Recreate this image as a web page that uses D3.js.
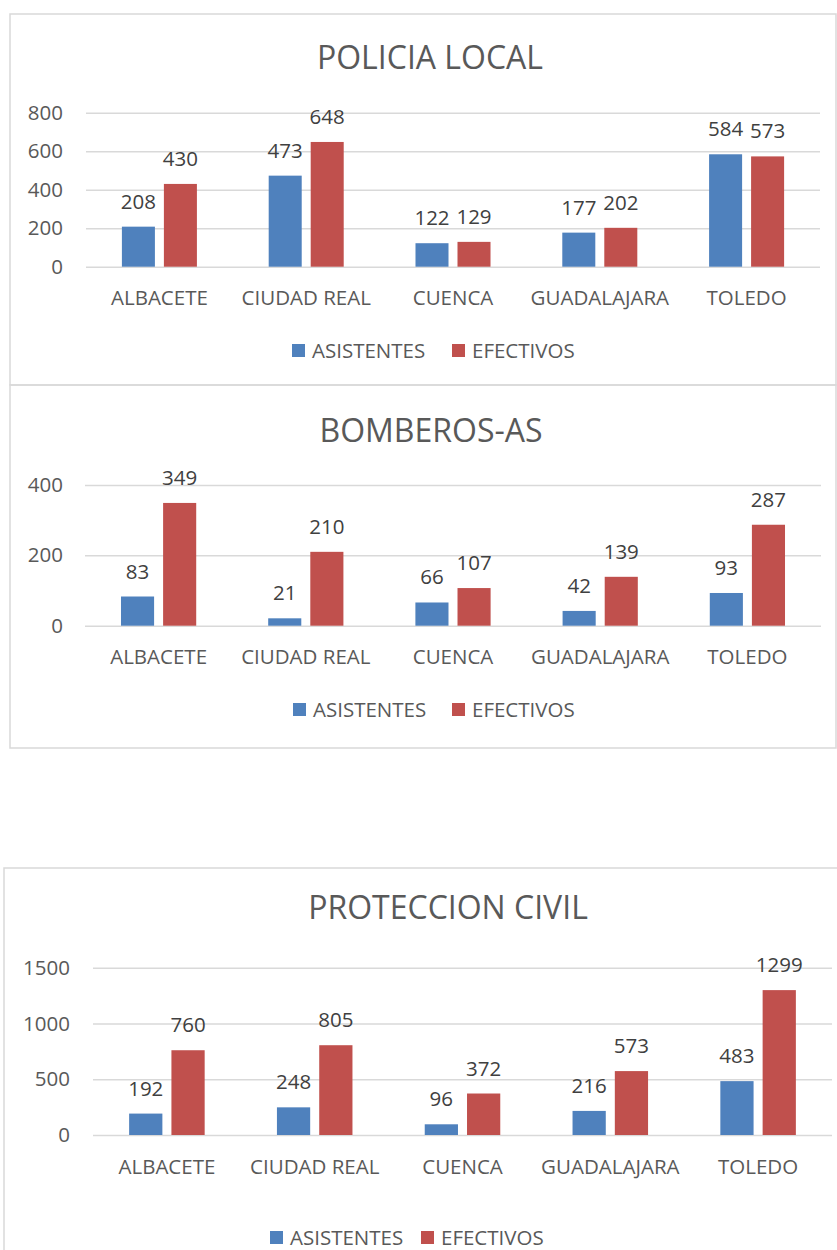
<!DOCTYPE html>
<html>
<head>
<meta charset="utf-8">
<script src="https://cdn.jsdelivr.net/npm/d3@7"></script>
<style>
  body { margin: 0; background: #fff; }
  svg { display: block; font-family: "Open Sans", sans-serif; }
</style>
</head>
<body>
<div id="chart"></div>
<script>
// data
const provincias = ["ALBACETE", "CIUDAD REAL", "CUENCA", "GUADALAJARA", "TOLEDO"];
const series = ["ASISTENTES", "EFECTIVOS"];

const policiaAsistentes = [208, 473, 122, 177, 584];
const policiaEfectivos  = [430, 648, 129, 202, 573];
const policiaTicks = [0, 200, 400, 600, 800];

const bomberosAsistentes = [83, 21, 66, 42, 93];
const bomberosEfectivos  = [349, 210, 107, 139, 287];
const bomberosTicks = [0, 200, 400];

const civilAsistentes = [192, 248, 96, 216, 483];
const civilEfectivos  = [760, 805, 372, 573, 1299];
const civilTicks = [0, 500, 1000, 1500];

const colors = { ASISTENTES: "#4F81BD", EFECTIVOS: "#C0504D" };
const textColor = "#595959";
const gridColor = "#D9D9D9";

const width = 837, height = 1250;

const svg = d3.select("#chart").append("svg")
    .attr("width", width)
    .attr("height", height);

function drawChart(opts) {
    const g = svg.append("g").attr("class", "chart");

    // frame
    g.append("rect")
        .attr("x", opts.frame.x).attr("y", opts.frame.y)
        .attr("width", opts.frame.w).attr("height", opts.frame.h)
        .attr("fill", "none")
        .attr("stroke", gridColor)
        .attr("stroke-width", 1.5);

    // title
    g.append("text")
        .attr("x", opts.titleX).attr("y", opts.titleY)
        .attr("text-anchor", "middle")
        .attr("font-size", "32px")
        .attr("fill", textColor)
        .text(opts.title);

    const x = d3.scaleBand().domain(provincias).range([opts.x0, opts.x1]);
    const step = x.step();
    const groupW = step * 0.511;
    const xs = d3.scaleBand().domain(series)
        .range([(step - groupW) / 2, (step + groupW) / 2])
        .paddingInner(0.214);

    const y = d3.scaleLinear()
        .domain([0, opts.ticks[opts.ticks.length - 1]])
        .range([opts.y0, opts.yTop]);

    // y axis + gridlines
    const yAxis = g.append("g")
        .attr("transform", "translate(" + opts.x0 + ",0)")
        .call(d3.axisLeft(y).tickValues(opts.ticks)
            .tickSize(-(opts.x1 - opts.x0))
            .tickPadding(opts.tickPad)
            .tickFormat(d3.format("d")));
    yAxis.select(".domain").remove();
    yAxis.selectAll(".tick line")
        .attr("stroke", gridColor)
        .attr("stroke-width", 1.5);
    yAxis.selectAll(".tick text")
        .attr("font-size", "20.5px")
        .attr("font-family", "Open Sans")
        .attr("fill", textColor);

    // category axis
    const xAxis = g.append("g")
        .attr("transform", "translate(0," + opts.y0 + ")")
        .call(d3.axisBottom(x).tickSize(0).tickPadding(24));
    xAxis.select(".domain").remove();
    xAxis.selectAll(".tick text")
        .attr("font-size", "20.5px")
        .attr("font-family", "Open Sans")
        .attr("fill", textColor);

    const rows = provincias.map((p, i) => ({
        provincia: p,
        values: series.map(s => ({ key: s, value: opts.data[s][i] }))
    }));

    const groups = g.selectAll(".group").data(rows).enter()
        .append("g")
        .attr("class", "group")
        .attr("transform", d => "translate(" + x(d.provincia) + ",0)");

    groups.selectAll("rect").data(d => d.values).enter()
        .append("rect")
        .attr("x", d => xs(d.key))
        .attr("y", d => y(d.value))
        .attr("width", xs.bandwidth())
        .attr("height", d => opts.y0 - y(d.value))
        .attr("fill", d => colors[d.key]);

    groups.selectAll(".label").data(d => d.values).enter()
        .append("text")
        .attr("class", "label")
        .attr("x", d => xs(d.key) + xs.bandwidth() / 2)
        .attr("y", d => y(d.value) - 18)
        .attr("text-anchor", "middle")
        .attr("font-size", "20.5px")
        .attr("fill", "#404040")
        .text(d => d.value);

    // legend
    const legend = g.selectAll(".legend").data(series).enter()
        .append("g")
        .attr("class", "legend")
        .attr("transform", (d, i) => "translate(" + opts.legendX[i] + "," + opts.legendY + ")");
    legend.append("rect")
        .attr("x", 0).attr("y", -7)
        .attr("width", 13).attr("height", 13)
        .attr("fill", d => colors[d]);
    legend.append("text")
        .attr("x", 20).attr("y", 7)
        .attr("font-size", "20.5px")
        .attr("fill", textColor)
        .text(d => d);
}

drawChart({
    title: "POLICIA LOCAL",
    data: { ASISTENTES: policiaAsistentes, EFECTIVOS: policiaEfectivos },
    ticks: policiaTicks,
    frame: { x: 10, y: 14, w: 826, h: 371 },
    titleX: 430, titleY: 69,
    x0: 86, x1: 820, y0: 266.7, yTop: 112.7, tickPad: 23,
    legendX: [292, 452], legendY: 351
});

drawChart({
    title: "BOMBEROS-AS",
    data: { ASISTENTES: bomberosAsistentes, EFECTIVOS: bomberosEfectivos },
    ticks: bomberosTicks,
    frame: { x: 10, y: 385, w: 826, h: 363 },
    titleX: 431, titleY: 442,
    x0: 85, x1: 821, y0: 625.7, yTop: 485, tickPad: 22,
    legendX: [293, 452], legendY: 710
});

drawChart({
    title: "PROTECCION CIVIL",
    data: { ASISTENTES: civilAsistentes, EFECTIVOS: civilEfectivos },
    ticks: civilTicks,
    frame: { x: 4, y: 868, w: 900, h: 500 },
    titleX: 448, titleY: 919,
    x0: 93, x1: 832, y0: 1135, yTop: 967.7, tickPad: 23,
    legendX: [270, 421], legendY: 1238
});
</script>
</body>
</html>
